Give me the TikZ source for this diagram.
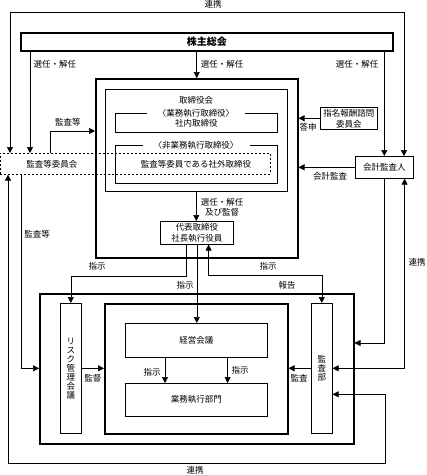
\documentclass[tikz,border=0pt]{standalone}
\usepackage{fontspec}
\setmainfont{Noto Sans CJK JP}
\usetikzlibrary{arrows.meta,calc}

\tikzset{
  frame/.style={draw,line width=1.5pt,inner sep=0pt,anchor=north west},
  box/.style={draw,line width=0.6pt,inner sep=0pt,anchor=north west,align=center,
    font=\fontsize{8.5}{11}\selectfont},
  title/.style={fill=white,inner xsep=11pt,inner ysep=1pt,font=\fontsize{8.5}{10}\selectfont},
  lbl/.style={inner sep=1pt,align=center,font=\fontsize{8.5}{10}\selectfont},
  link/.style={draw,line width=0.6pt,-{Triangle[length=6pt,width=6pt]}},
  linkboth/.style={draw,line width=0.6pt,{Triangle[length=6pt,width=6pt]}-{Triangle[length=6pt,width=6pt]}}
}

\begin{document}
\begin{tikzpicture}[x=1pt,y=-1pt]
    \useasboundingbox (0,0) rectangle (427,475);

    % Shareholders and board
    \node[frame,minimum width=372pt,minimum height=18pt,font=\fontsize{10}{12}\selectfont\bfseries] (gms) at (20,32) {株主総会};
    \node[frame,minimum width=202pt,minimum height=179pt] (mainfr) at (95,78) {};
    \node[box,minimum width=182pt,minimum height=102pt] (board) at (105,89) {};
    \node[lbl] (boardlbl) at (196,100) {取締役会};
    \node[box,minimum width=162pt,minimum height=19pt] (execgrp) at (115,113) {\raisebox{-2pt}{社内取締役}};
    \node[title] (exectitle) at (196,113) {〈業務執行取締役〉};
    \node[box,minimum width=162pt,minimum height=38pt] (nonexec) at (115,145) {};
    \node[title] (nonexectitle) at (196,145) {〈非業務執行取締役〉};

    % Audit and supervisory committee (dashed)
    \node[box,dashed,dash pattern=on 2pt off 2pt,minimum width=270pt,minimum height=21pt] (acbox) at (0,153) {};
    \node[lbl] (aclbl) at (52,164) {監査等委員会};
    \node[lbl] (outdir) at (196,164) {監査等委員である社外取締役};

    % Side committees
    \node[box,minimum width=57pt,minimum height=22pt] (nom) at (320,107) {指名報酬諮問\\委員会};
    \node[box,minimum width=58pt,minimum height=22pt] (acc) at (355,156) {会計監査人};
    \node[box,minimum width=73pt,minimum height=23pt] (pres) at (160,221) {代表取締役\\社長執行役員};

    % Execution side
    \node[frame,minimum width=314pt,minimum height=150pt] (outerfr) at (39,293) {};
    \node[frame,minimum width=183pt,minimum height=130pt] (innerfr) at (104,303) {};
    \node[box,minimum width=21pt,minimum height=130pt,font=\fontsize{8.5}{9}\selectfont] (risk) at (60,303) {リ\\ス\\ク\\管\\理\\会\\議};
    \node[box,minimum width=21pt,minimum height=130pt,font=\fontsize{8.5}{9}\selectfont] (adept) at (311,303) {監\\査\\部};
    \node[box,minimum width=142pt,minimum height=34pt] (mgmt) at (125,323) {経営会議};
    \node[box,minimum width=142pt,minimum height=33pt] (ops) at (125,383) {業務執行部門};

    % Top link
    \coordinate (lkTL) at (10,12);
    \coordinate (lkTR) at (404,12);
    \draw[linkboth] (lkTL |- acbox.north) -- (lkTL) -- (lkTR) -- (lkTR |- acc.north);
    \node[lbl] (lk1) at (213,4) {連携};

    % Appointment / dismissal
    \draw[link] ($(gms.south west)+(10,0)$) coordinate (e1) -- (e1 |- acbox.north);
    \node[lbl] (ap1) at (55,64) {選任・解任};
    \draw[link] (mainfr.north |- gms.south) -- (mainfr.north);
    \node[lbl] (ap2) at (222,64) {選任・解任};
    \draw[link] (acc.north |- gms.south) -- (acc.north);
    \node[lbl] (ap3) at (357,64) {選任・解任};

    % Committee to board
    \draw[link] ($(acbox.north west)+(50,0)$) coordinate (m1) |- ($(mainfr.north west)+(0,53)$);
    \node[lbl] (au1) at (68,122) {監査等};
    \draw[link] (nom.west) -- (nom.west -| mainfr.east);
    \node[lbl] (rep1) at (308,127) {答申};
    \draw[link] (acc.west) -- (acc.west -| mainfr.east);
    \node[lbl] (au2) at (330,176) {会計監査};
    \draw[link] (board.south) -- (board.south |- pres.north);
    \node[lbl] (ap4) at (222,207) {選任・解任\\及び監督};

    % President to execution side
    \draw[link] ($(pres.south west)+(26,0)$) coordinate (p1) -- ++(0,32) -| (risk.north);
    \node[lbl] (in1) at (97,266) {指示};
    \draw[link] (pres.south) -- (pres.south |- mgmt.north);
    \node[lbl] (in2) at (185,285) {指示};
    \draw[linkboth] ($(pres.south east)+(-25,0)$) coordinate (p2) -- ++(0,31) -| (adept.north);
    \node[lbl] (in3) at (268,266) {指示};
    \node[lbl] (rp2) at (287,285) {報告};

    % Inside execution
    \draw[link] ($(mgmt.south west)+(40,0)$) coordinate (g1) -- (g1 |- ops.north);
    \node[lbl] (in4) at (152,372) {指示};
    \draw[link] ($(mgmt.south east)+(-40,0)$) coordinate (g2) -- (g2 |- ops.north);
    \node[lbl] (in5) at (240,370) {指示};
    \draw[link] (risk.east) -- (risk.east -| innerfr.west);
    \node[lbl] (sv1) at (93,378) {監督};
    \draw[link] (adept.west) -- (adept.west -| innerfr.east);
    \node[lbl] (au3) at (299,378) {監査};

    % Left side
    \draw[link] ($(acbox.south west)+(21,0)$) coordinate (a1) |- (outerfr.west |- risk.east);
    \node[lbl] (au4) at (37,234) {監査等};
    \coordinate (lkBL) at (8,463);
    \coordinate (lkBR) at (385,463);
    \draw[linkboth] (lkBL |- acbox.south) -- (lkBL) -- (lkBR) |- ($(adept.east)+(0,26)$);
    \node[lbl] (lk2) at (195,470) {連携};

    % Right side
    \draw[link] (acc.south) |- ($(outerfr.north east)+(0,50)$);
    \draw[linkboth] ($(acc.south east)+(-9,0)$) coordinate (q2) |- (adept.east);
    \node[lbl] (lk3) at (417,262) {連携};
\end{tikzpicture}
\end{document}
